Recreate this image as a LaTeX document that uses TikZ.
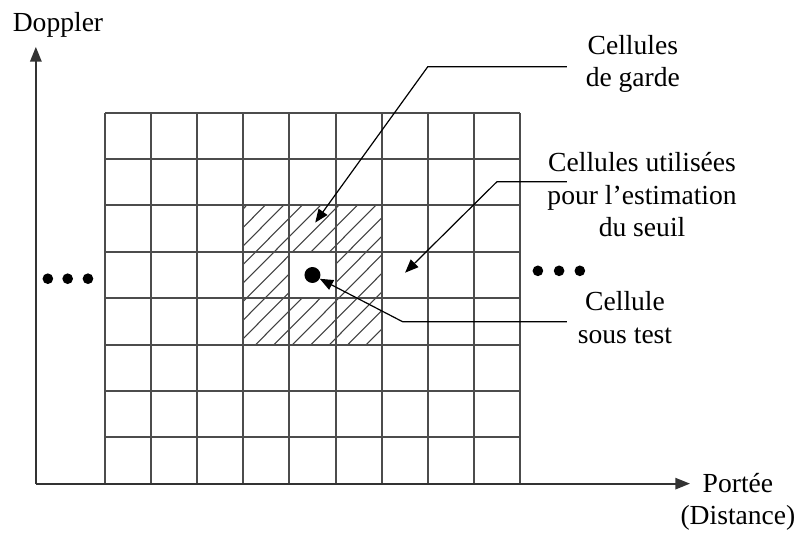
\documentclass[tikz,border=0pt]{standalone}
\usepackage{fontspec}
\setmainfont{Liberation Serif}
\usetikzlibrary{arrows.meta}

\tikzset{
  lbl/.style={align=center, font=\fontsize{20.7}{24.5}\selectfont},
  gridline/.style={line width=1.5pt, black!70},
  hatchline/.style={line width=0.8pt, black!75},
  axisline/.style={line width=1.3pt, black!80, -{Triangle[length=11pt,width=8.5pt]}},
  cfarline/.style={line width=0.9pt, -{Triangle[length=10pt,width=8pt]}},
  bigdot/.style={circle, fill, inner sep=0pt, minimum size=12pt}
}

\begin{document}
\begin{tikzpicture}[x=34.6pt, y=34.8pt]
\useasboundingbox (-2.278,-1.078) rectangle (15.054,10.431);

% cellules de garde (hachures)
\begin{scope}
  \clip (3,3) rectangle (6,6);
  \foreach \i in {0,...,15}
    \draw[hatchline] (0.07+0.4*\i,3) -- ++(3,3);
\end{scope}
\fill[white] (4,4) rectangle (5,5);

% grille distance / doppler
\foreach \i in {0,...,9}
  \draw[gridline] (\i,0) -- (\i,8);
\foreach \j in {0,...,8}
  \draw[gridline] (0,\j) -- (9,\j);

% axes
\coordinate (O) at (-1.5,0);
\coordinate (ytip) at (-1.5,9.42);
\coordinate (xtip) at (12.69,0);
\draw[axisline] (O) -- (ytip);
\draw[axisline] (O) -- (xtip);
\node[lbl] (doppler) at (-1.02,9.89) {Doppler};
\node[lbl] (portee) at (13.73,-0.39) {Portée\\(Distance)};

% points de suspension
\foreach \x in {-1.24,-0.81,-0.37}
  \fill (\x,4.42) circle (4pt);
\foreach \x in {9.39,9.85,10.3}
  \fill (\x,4.59) circle (4pt);

% cellule sous test
\node[bigdot] (cut) at (4.5,4.5) {};

% legendes
\node[lbl] (garde) at (11.45,9.05) {Cellules\\de garde};
\node[lbl] (seuil) at (11.65,6.23) {Cellules utilisées\\pour l’estimation\\du seuil};
\node[lbl] (test) at (11.28,3.58) {Cellule\\sous test};

\coordinate (g0) at (10.02,8.99);
\coordinate (g1) at (7,8.99);
\coordinate (gtip) at (4.56,5.63);
\coordinate (s0) at (10.02,6.51);
\coordinate (s1) at (8.5,6.51);
\coordinate (stip) at (6.51,4.55);
\coordinate (t0) at (10.02,3.49);
\coordinate (t1) at (6.46,3.49);

\draw[cfarline] (g0) -- (g1) -- (gtip);
\draw[cfarline] (s0) -- (s1) -- (stip);
\draw[cfarline] (t0) -- (t1) -- (cut);
\end{tikzpicture}
\end{document}
